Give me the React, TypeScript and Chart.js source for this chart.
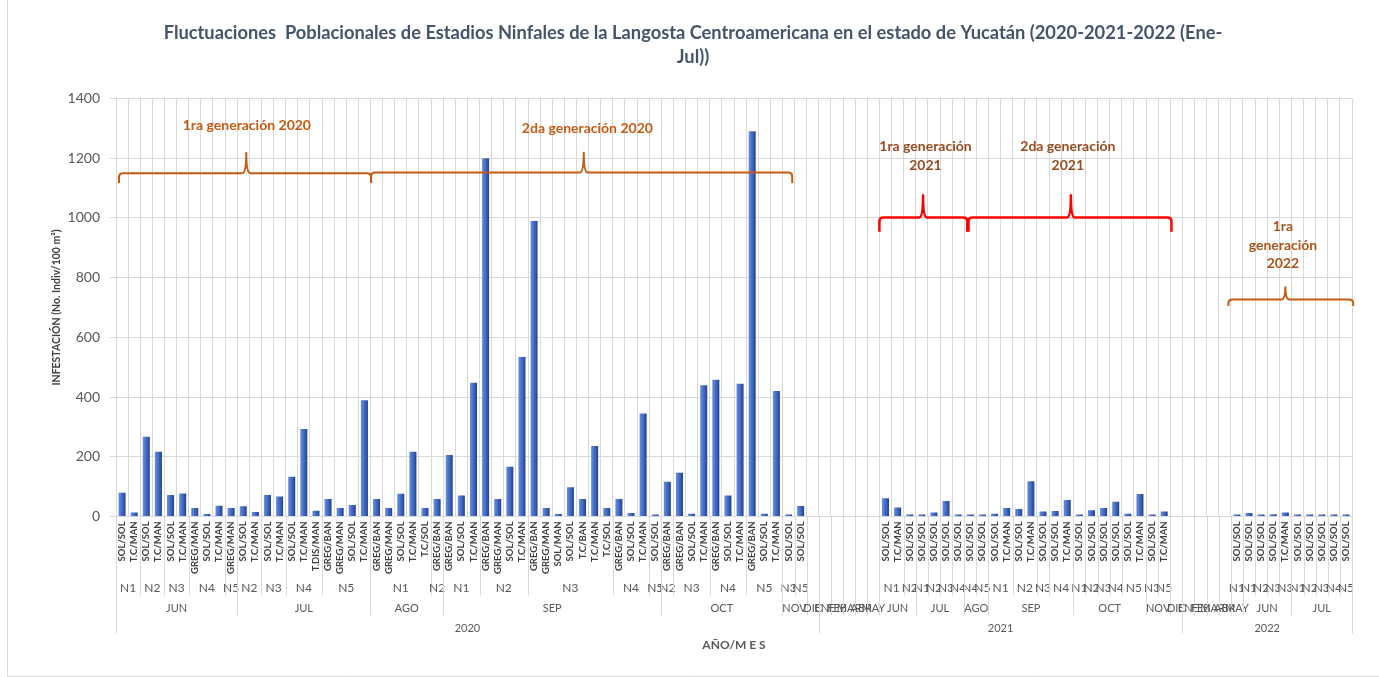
import React, { useEffect, useRef } from 'react';
import { Chart, registerables } from 'chart.js';

Chart.register(...registerables);

const FONT = 'Lato, "Open Sans", sans-serif';

const titleLines = [
  'Fluctuaciones  Poblacionales de Estadios Ninfales de la Langosta Centroamericana en el estado de Yucatán (2020-2021-2022 (Ene-',
  'Jul))',
];
const yAxisTitle = 'INFESTACIÓN (No. Indiv/100 m²)';
const xAxisTitle = 'AÑO/M E S';

// Level 1: sub-category labels (one per bar slot)
const subLabels = [
  // 2020 JUN
  'SOL/SOL', 'T.C/MAN', 'SOL/SOL', 'T.C/MAN', 'SOL/SOL', 'T.C/MAN', 'GREG/MAN', 'SOL/SOL', 'T.C/MAN', 'GREG/MAN',
  // 2020 JUL
  'SOL/SOL', 'T.C/MAN', 'SOL/SOL', 'T.C/MAN', 'SOL/SOL', 'T.C/MAN', 'T.DIS/MAN', 'GREG/BAN', 'GREG/MAN', 'SOL/SOL', 'T.C/MAN',
  // 2020 AGO
  'GREG/BAN', 'GREG/MAN', 'SOL/SOL', 'T.C/MAN', 'T.C/SOL', 'GREG/BAN',
  // 2020 SEP
  'GREG/BAN', 'SOL/SOL', 'T.C/MAN', 'GREG/BAN', 'GREG/MAN', 'SOL/SOL', 'T.C/MAN', 'GREG/BAN', 'GREG/MAN', 'SOL/MAN',
  'SOL/SOL', 'T.C/BAN', 'T.C/MAN', 'T.C/SOL', 'GREG/BAN', 'SOL/SOL', 'T.C/MAN', 'SOL/SOL',
  // 2020 OCT
  'GREG/BAN', 'GREG/BAN', 'SOL/SOL', 'T.C/MAN', 'GREG/BAN', 'SOL/SOL', 'T.C/MAN', 'GREG/BAN', 'SOL/SOL', 'T.C/MAN',
  // 2020 NOV, DIC
  'SOL/SOL', 'SOL/SOL', '',
  // 2021 ENE-MAY
  '', '', '', '', '',
  // 2021 JUN
  'SOL/SOL', 'T.C/MAN', 'SOL/SOL',
  // 2021 JUL
  'SOL/SOL', 'SOL/SOL', 'SOL/SOL', 'SOL/SOL',
  // 2021 AGO
  'SOL/SOL', 'SOL/SOL',
  // 2021 SEP
  'SOL/SOL', 'T.C/MAN', 'SOL/SOL', 'T.C/MAN', 'SOL/SOL', 'SOL/SOL', 'T.C/MAN',
  // 2021 OCT
  'SOL/SOL', 'SOL/SOL', 'SOL/SOL', 'SOL/SOL', 'SOL/SOL', 'T.C/MAN',
  // 2021 NOV, DIC
  'SOL/SOL', 'T.C/MAN', '',
  // 2022 ENE-ABR
  '', '', '', '',
  // 2022 MAY
  'SOL/SOL',
  // 2022 JUN
  'SOL/SOL', 'SOL/SOL', 'SOL/SOL', 'T.C/MAN',
  // 2022 JUL
  'SOL/SOL', 'SOL/SOL', 'SOL/SOL', 'SOL/SOL', 'SOL/SOL',
];

// Infestation values (No. Indiv / 100 m²), aligned with subLabels
const infestacion: (number | null)[] = [
  // 2020 JUN
  79, 13, 267, 217, 72, 77, 28, 8, 36, 28,
  // 2020 JUL
  34, 15, 72, 67, 133, 293, 19, 58, 28, 38, 389,
  // 2020 AGO
  58, 28, 76, 217, 28, 58,
  // 2020 SEP
  206, 70, 448, 1200, 58, 166, 534, 990, 28, 8, 98, 58, 236, 28, 58, 11, 345, 3,
  // 2020 OCT
  116, 146, 9, 439, 458, 70, 444, 1290, 9, 420,
  // 2020 NOV, DIC
  2, 35, null,
  // 2021 ENE-MAY
  null, null, null, null, null,
  // 2021 JUN
  61, 30, 3,
  // 2021 JUL
  1, 13, 52, 6,
  // 2021 AGO
  1, 1,
  // 2021 SEP
  9, 28, 25, 118, 16, 18, 55,
  // 2021 OCT
  2, 21, 28, 49, 9, 75,
  // 2021 NOV, DIC
  3, 16, null,
  // 2022 ENE-ABR
  null, null, null, null,
  // 2022 MAY
  2,
  // 2022 JUN
  11, 6, 7, 13,
  // 2022 JUL
  2, 5, 4, 2, 2,
];

// Level 2: nymphal stage groups [label, number of slots]
const nivelGroups: [string, number][] = [
  // 2020
  ['N1', 2], ['N2', 2], ['N3', 2], ['N4', 3], ['N5', 1],
  ['N2', 2], ['N3', 2], ['N4', 3], ['N5', 4],
  ['N1', 5], ['N2', 1],
  ['N1', 3], ['N2', 4], ['N3', 7], ['N4', 3], ['N5', 1],
  ['N2', 1], ['N3', 3], ['N4', 3], ['N5', 3],
  ['N3', 1], ['N5', 1],
  ['', 1],
  // 2021
  ['', 1], ['', 1], ['', 1], ['', 1], ['', 1],
  ['N1', 2], ['N2', 1],
  ['N1', 1], ['N2', 1], ['N3', 1], ['N4', 1],
  ['N4', 1], ['N5', 1],
  ['N1', 2], ['N2', 2], ['N3', 1], ['N4', 2],
  ['N1', 1], ['N2', 1], ['N3', 1], ['N4', 1], ['N5', 2],
  ['N3', 1], ['N5', 1],
  ['', 1],
  // 2022
  ['', 1], ['', 1], ['', 1], ['', 1],
  ['N1', 1],
  ['N1', 1], ['N2', 1], ['N3', 1], ['N3', 1],
  ['N1', 1], ['N2', 1], ['N3', 1], ['N4', 1], ['N5', 1],
];

// Level 3: months
const mesGroups: [string, number][] = [
  ['JUN', 10], ['JUL', 11], ['AGO', 6], ['SEP', 18], ['OCT', 10], ['NOV', 2], ['DIC', 1],
  ['ENE', 1], ['FEB', 1], ['MAR', 1], ['ABR', 1], ['MAY', 1], ['JUN', 3], ['JUL', 4], ['AGO', 2],
  ['SEP', 7], ['OCT', 6], ['NOV', 2], ['DIC', 1],
  ['ENE', 1], ['FEB', 1], ['MAR', 1], ['ABR', 1], ['MAY', 1], ['JUN', 4], ['JUL', 5],
];

// Level 4: years
const anioGroups: [string, number][] = [
  ['2020', 58], ['2021', 30], ['2022', 14],
];

const yTicks = { min: 0, max: 1400, step: 200 };

// Generation braces (x in category-index units, y in data units)
const braces = [
  { from: -0.25, to: 20.55, tip: 10.25, y: 1150, tipY: 1218, endY: 1117, color: '#C55A11', lw: 2 },
  { from: 20.55, to: 55.3, tip: 38.1, y: 1152, tipY: 1218, endY: 1117, color: '#C55A11', lw: 2 },
  { from: 62.5, to: 69.75, tip: 66.1, y: 1001, tipY: 1076, endY: 954, color: '#FF0000', lw: 2.5 },
  { from: 69.85, to: 86.6, tip: 78.3, y: 1001, tipY: 1076, endY: 954, color: '#FF0000', lw: 2.5 },
  { from: 91.3, to: 101.6, tip: 96.0, y: 727, tipY: 768, endY: 705, color: '#C55A11', lw: 2 },
];

const braceTexts = [
  { lines: ['1ra generación 2020'], x: 10.3, y: 1308, color: '#C55A11' },
  { lines: ['2da generación 2020'], x: 38.4, y: 1301, color: '#C55A11' },
  { lines: ['1ra generación', '2021'], x: 66.3, y: 1239, color: '#974B1F' },
  { lines: ['2da generación', '2021'], x: 78.05, y: 1239, color: '#974B1F' },
  { lines: ['1ra', 'generación', '2022'], x: 95.8, y: 970, color: '#A9531A' },
];

const framePlugin = {
  id: 'frame',
  afterDraw(chart: any) {
    const ctx: CanvasRenderingContext2D = chart.ctx;
    ctx.save();
    ctx.strokeStyle = '#D9D9D9';
    ctx.lineWidth = 1;
    ctx.beginPath();
    ctx.moveTo(7.5, 0);
    ctx.lineTo(7.5, 676.5);
    ctx.lineTo(1379, 676.5);
    ctx.stroke();
    ctx.fillStyle = '#44546A';
    ctx.font = `bold 18.3px ${FONT}`;
    ctx.textAlign = 'center';
    ctx.textBaseline = 'middle';
    titleLines.forEach((line, k) => ctx.fillText(line, 693, 33 + k * 24));
    ctx.restore();
  },
};

const hierAxisPlugin = {
  id: 'hierAxis',
  afterDraw(chart: any) {
    const xs = chart.scales.x;
    const ctx: CanvasRenderingContext2D = chart.ctx;
    const top = chart.chartArea.bottom;
    const edge = (i: number) => xs.getPixelForValue(i - 0.5);
    const vline = (x: number, y0: number, y1: number) => {
      const px = Math.round(x) + 0.5;
      ctx.beginPath();
      ctx.moveTo(px, y0);
      ctx.lineTo(px, y1);
      ctx.stroke();
    };
    ctx.save();
    ctx.strokeStyle = '#D9D9D9';
    ctx.lineWidth = 1;
    ctx.fillStyle = '#595959';
    ctx.textAlign = 'center';
    ctx.textBaseline = 'middle';
    const level = (groups: [string, number][], textDy: number, lineDy: number, font: string) => {
      ctx.font = font;
      let idx = 0;
      groups.forEach(([label, n]) => {
        const x0 = edge(idx);
        const x1 = edge(idx + n);
        vline(x0, top, top + lineDy);
        if (label) ctx.fillText(label, (x0 + x1) / 2, top + textDy);
        idx += n;
      });
      vline(edge(idx), top, top + lineDy);
    };
    level(nivelGroups, 72, 79, `12px ${FONT}`);
    level(mesGroups, 92, 99, `11px ${FONT}`);
    level(anioGroups, 112, 117, `11px ${FONT}`);
    ctx.restore();
  },
};

const bracePlugin = {
  id: 'braces',
  afterDatasetsDraw(chart: any) {
    const xs = chart.scales.x;
    const ys = chart.scales.y;
    const ctx: CanvasRenderingContext2D = chart.ctx;
    ctx.save();
    braces.forEach((b) => {
      const x0 = xs.getPixelForValue(b.from);
      const x1 = xs.getPixelForValue(b.to);
      const xt = xs.getPixelForValue(b.tip);
      const y = ys.getPixelForValue(b.y);
      const yt = ys.getPixelForValue(b.tipY);
      const ye = ys.getPixelForValue(b.endY);
      const r = 4;
      ctx.strokeStyle = b.color;
      ctx.lineWidth = b.lw;
      ctx.lineJoin = 'round';
      ctx.beginPath();
      ctx.moveTo(x0, ye);
      ctx.lineTo(x0, y + r);
      ctx.quadraticCurveTo(x0, y, x0 + r, y);
      ctx.lineTo(xt - r, y);
      ctx.quadraticCurveTo(xt, y, xt, yt);
      ctx.quadraticCurveTo(xt, y, xt + r, y);
      ctx.lineTo(x1 - r, y);
      ctx.quadraticCurveTo(x1, y, x1, y + r);
      ctx.lineTo(x1, ye);
      ctx.stroke();
    });
    ctx.textAlign = 'center';
    ctx.textBaseline = 'middle';
    ctx.font = `bold 14px ${FONT}`;
    braceTexts.forEach((t) => {
      const x = xs.getPixelForValue(t.x);
      const y = ys.getPixelForValue(t.y);
      ctx.fillStyle = t.color;
      t.lines.forEach((line, k) => ctx.fillText(line, x, y + k * 18.5));
    });
    ctx.restore();
  },
};

const barFill = (c: any) => {
  const chart = c.chart;
  const xs = chart.scales && chart.scales.x;
  if (c.type !== 'data' || !xs) return '#4472C4';
  const cx = xs.getPixelForValue(c.dataIndex);
  if (!isFinite(cx)) return '#4472C4';
  const g = chart.ctx.createLinearGradient(cx - 3.5, 0, cx + 3.5, 0);
  g.addColorStop(0, '#6A8FDB');
  g.addColorStop(0.4, '#4A72CC');
  g.addColorStop(0.8, '#2F52A8');
  g.addColorStop(1, '#23418A');
  return g;
};

export default function App() {
  const canvasRef = useRef<HTMLCanvasElement | null>(null);

  useEffect(() => {
    if (!canvasRef.current) return;
    const chart = new Chart(canvasRef.current, {
      type: 'bar',
      data: {
        labels: subLabels,
        datasets: [
          {
            label: 'Infestación',
            data: infestacion,
            backgroundColor: barFill,
            borderWidth: 0,
            categoryPercentage: 1,
            barPercentage: 0.58,
            minBarLength: 2,
          },
        ],
      },
      options: {
        responsive: false,
        animation: false,
        layout: { padding: { top: 98.5, right: 27, bottom: 0, left: 0 } },
        plugins: {
          legend: { display: false },
          tooltip: { enabled: false },
          title: { display: false },
        },
        scales: {
          x: {
            type: 'category',
            offset: true,
            grid: { color: '#D9D9D9', offset: true, drawTicks: false },
            border: { color: '#D9D9D9' },
            ticks: {
              autoSkip: false,
              minRotation: 90,
              maxRotation: 90,
              padding: 5,
              color: '#404040',
              font: { family: FONT, size: 9.5, weight: 'bold' },
            },
            title: {
              display: true,
              text: xAxisTitle,
              color: '#595959',
              font: { family: FONT, size: 12, weight: 'bold', lineHeight: 1.2 },
              padding: { top: 0, bottom: 25 },
            },
            afterFit: (scale: any) => {
              scale.height = 160.6;
            },
          },
          y: {
            min: yTicks.min,
            max: yTicks.max,
            grid: { color: '#D9D9D9', tickLength: 6 },
            border: { color: '#D9D9D9' },
            ticks: {
              stepSize: yTicks.step,
              padding: 10,
              color: '#595959',
              font: { family: FONT, size: 14 },
              callback: (v: any) => String(v),
            },
            title: {
              display: true,
              text: yAxisTitle,
              color: '#404040',
              font: { family: FONT, size: 10.5, weight: 'bold', lineHeight: 1.2 },
              padding: { top: 50.7, bottom: 0 },
            },
            afterFit: (scale: any) => {
              scale.width = 116;
            },
          },
        },
      },
      plugins: [hierAxisPlugin, bracePlugin, framePlugin],
    });
    return () => chart.destroy();
  }, []);

  return (
    <div style={{ position: 'fixed', left: 0, top: 0, width: 1379, height: 677, background: '#ffffff' }}>
      <canvas ref={canvasRef} width={1379} height={677} />
    </div>
  );
}
